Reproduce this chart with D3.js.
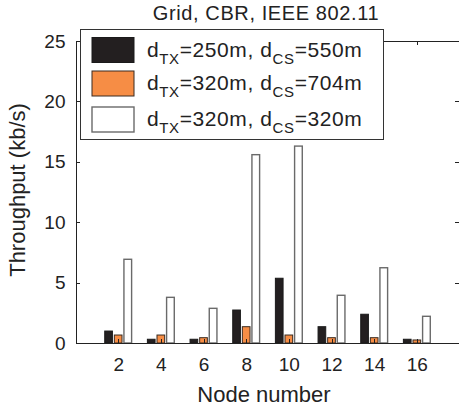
<!DOCTYPE html>
<html>
<head>
<meta charset="utf-8">
<script src="https://cdn.jsdelivr.net/npm/d3@7"></script>
<style>
  body { margin: 0; background: #fff; }
  svg { display: block; font-family: 'Liberation Sans', Arial, sans-serif; }
  .axis path, .axis line { stroke: #222; stroke-width: 1; shape-rendering: crispEdges; }
  .axis text { font-size: 19px; fill: #222; }
</style>
</head>
<body>
<div id="chart"></div>
<script>
// data
const nodes = [2, 4, 6, 8, 10, 12, 14, 16];
const tx250cs550 = [0.99, 0.31, 0.31, 2.73, 5.36, 1.35, 2.38, 0.31];
const tx320cs704 = [0.66, 0.66, 0.44, 1.35, 0.66, 0.44, 0.44, 0.25];
const tx320cs320 = [6.93, 3.78, 2.87, 15.59, 16.3, 3.95, 6.23, 2.21];
const yTicks = [0, 5, 10, 15, 20, 25];

const seriesNames = [
  { tx: '250', cs: '550' },
  { tx: '320', cs: '704' },
  { tx: '320', cs: '320' }
];
const seriesValues = [tx250cs550, tx320cs704, tx320cs320];
const fills = ['#231f20', '#f68d45', '#ffffff'];
const strokes = ['#1a1a1a', '#3a2a20', '#6a6a6a'];

const W = 459, H = 410;
const plot = { left: 75.5, right: 459.5, top: 41, bottom: 343 };

const svg = d3.select('#chart').append('svg')
  .attr('width', W)
  .attr('height', H);

// Scales
const xScale = d3.scaleLinear().domain([0, 18]).range([plot.left, plot.right]);
const yScale = d3.scaleLinear().domain([0, 25]).range([plot.bottom, plot.top]);

const offset = 0.45;   // bar offset within a group (data units)
const barW = 0.36;     // bar width (data units)

// bars
seriesValues.forEach(function(vals, s) {
  svg.append('g')
    .selectAll('rect')
    .data(nodes.map(function(n, i) { return { x: n, v: vals[i] }; }))
    .enter()
    .append('rect')
      .attr('x', function(d) { return xScale(d.x + (s - 1) * offset - barW / 2); })
      .attr('width', xScale(barW) - xScale(0))
      .attr('y', function(d) { return yScale(d.v); })
      .attr('height', function(d) { return yScale(0) - yScale(d.v); })
      .style('fill', fills[s])
      .style('stroke', strokes[s])
      .style('stroke-width', s === 2 ? 1.4 : 1);
});

// axes (MATLAB style, ticks inward)
svg.append('g')
  .attr('class', 'axis')
  .attr('transform', `translate(0, ${ plot.bottom })`)
  .call(d3.axisBottom(xScale).tickValues(nodes).tickSize(-4).tickPadding(14.5).tickSizeOuter(0));

svg.append('g')
  .attr('class', 'axis')
  .attr('transform', `translate(0, ${ plot.top })`)
  .call(d3.axisTop(xScale).tickValues(nodes).tickSize(-4).tickFormat('').tickSizeOuter(0));

svg.append('g')
  .attr('class', 'axis')
  .attr('transform', `translate(${ plot.left }, 0)`)
  .call(d3.axisLeft(yScale).tickValues(yTicks).tickSize(-4).tickPadding(10).tickSizeOuter(0));

const rightAxis = svg.append('g')
  .attr('class', 'axis')
  .attr('transform', `translate(${ plot.right }, 0)`)
  .call(d3.axisRight(yScale).tickValues(yTicks).tickSize(-5).tickFormat('').tickSizeOuter(0));
rightAxis.select('.domain').remove();

// title
svg.append('text')
  .attr('x', 266)
  .attr('y', 20)
  .style('text-anchor', 'middle')
  .style('font-size', '20px')
  .style('letter-spacing', '0.6px')
  .style('fill', '#222')
  .text('Grid, CBR, IEEE 802.11');

// x-axis label
svg.append('text')
  .attr('x', 264)
  .attr('y', 402)
  .style('text-anchor', 'middle')
  .style('font-size', '22px')
  .style('fill', '#222')
  .text('Node number');

// y-axis label
svg.append('text')
  .attr('transform', 'translate(25, 190) rotate(-90)')
  .style('text-anchor', 'middle')
  .style('font-size', '22px')
  .style('fill', '#222')
  .text('Throughput (kb/s)');

// legend
const legend = svg.append('g').attr('class', 'legend');

legend.append('rect')
  .attr('x', 80.5)
  .attr('y', 29.5)
  .attr('width', 303)
  .attr('height', 110)
  .style('fill', '#fff')
  .style('stroke', '#333')
  .style('stroke-width', 1);

const rowY = [37.5, 71, 107];
seriesNames.forEach(function(d, i) {
  legend.append('rect')
    .attr('x', 92)
    .attr('y', rowY[i])
    .attr('width', 42)
    .attr('height', 25)
    .style('fill', fills[i])
    .style('stroke', strokes[i])
    .style('stroke-width', i === 2 ? 1.4 : 1);

  const t = legend.append('text')
    .attr('x', 147)
    .attr('y', rowY[i] + 19)
    .style('font-size', '21px')
    .style('letter-spacing', '0.6px')
    .style('fill', '#222');
  t.append('tspan').text('d');
  t.append('tspan').attr('dy', 7).style('font-size', '15px').text('TX');
  t.append('tspan').attr('dy', -7).text(`=${ d.tx }m, d`);
  t.append('tspan').attr('dy', 7).style('font-size', '15px').text('CS');
  t.append('tspan').attr('dy', -7).text(`=${ d.cs }m`);
});
</script>
</body>
</html>
